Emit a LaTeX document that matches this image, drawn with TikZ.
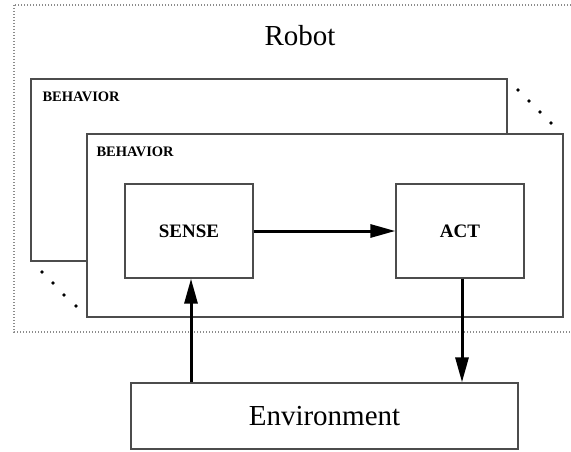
\documentclass[tikz,border=0pt]{standalone}
\usepackage{fontspec}
\setmainfont{Liberation Serif}
\usetikzlibrary{arrows.meta}

\begin{document}
\begin{tikzpicture}[x=1pt,y=-1pt,
		box/.style={draw=black!70, line width=1.3pt, fill=white, inner sep=0pt},
		tag/.style={font=\bfseries\fontsize{14.5}{16}\selectfont, inner sep=0pt, anchor=west},
		flow/.style={line width=3pt, -{Triangle[length=25pt,width=13pt]}}]
			\useasboundingbox (0,0) rectangle (571,452);
			\clip (0,0) rectangle (571,452);

			\draw[black!45, line width=1.3pt, dash pattern=on 1pt off 2pt] (14,5) rectangle (600,332);
			\node (robot) at (300,36) {\fontsize{29}{32}\selectfont Robot};

			\node[box, minimum width=476pt, minimum height=182pt] (behA) at (269,170) {};
			\node[tag] (tagA) at ([xshift=12pt,yshift=-18pt]behA.north west) {BEHAVIOR};
			\node[box, minimum width=476pt, minimum height=183pt] (behB) at (325,225.5) {};
			\node[tag] (tagB) at ([xshift=10pt,yshift=-18pt]behB.north west) {BEHAVIOR};

			\foreach \px/\py in {518/90, 529/101, 540/112, 551/123, 42/272, 53/283, 64/295, 76/306}
				\fill (\px,\py) circle (1.8pt);

			\node[box, minimum width=128pt, minimum height=94pt, font=\bfseries\fontsize{19}{22}\selectfont] (sense) at (189,231) {SENSE};
			\node[box, minimum width=128pt, minimum height=94pt, font=\bfseries\fontsize{19}{22}\selectfont] (act) at (460,231) {ACT};
			\node[box, minimum width=387pt, minimum height=66pt, font=\fontsize{29}{32}\selectfont] (env) at (324.5,416) {Environment};

			\draw[flow] (sense.east) -- (act.west);
			\draw[flow] ([xshift=2pt]sense.south |- env.north) -- ([xshift=2pt]sense.south);
			\draw[flow] ([xshift=2pt]act.south) -- ([xshift=2pt]act.south |- env.north);
		\end{tikzpicture}
\end{document}
